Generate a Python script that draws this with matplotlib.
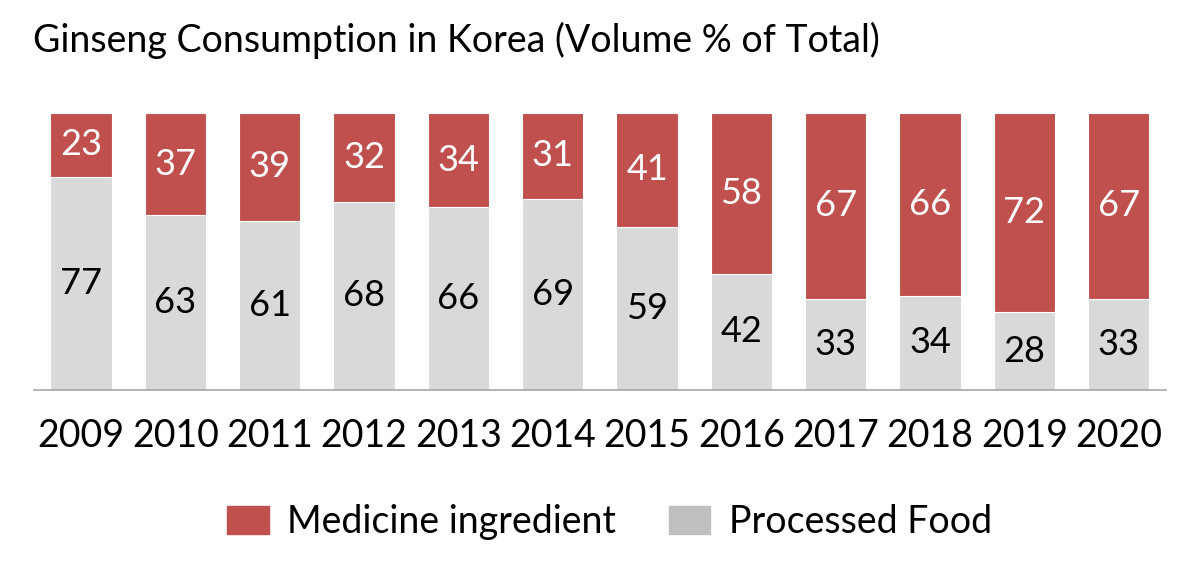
import matplotlib.pyplot as plt

years = ['2009', '2010', '2011', '2012', '2013', '2014', '2015', '2016', '2017', '2018', '2019', '2020']
processed = [77, 63, 61, 68, 66, 69, 59, 42, 33, 34, 28, 33]
medicine = [23, 37, 39, 32, 34, 31, 41, 58, 67, 66, 72, 67]

red = '#C0504D'
grey = '#D9D9D9'
plt.rcParams['font.family'] = ['Lato', 'DejaVu Sans']

fig = plt.figure(figsize=(12, 5.68), dpi=100)
ax = fig.add_axes([0.0283, 0.3134, 0.9433, 0.4877])

x = range(len(years))
ax.bar(x, processed, width=0.65, color=grey, edgecolor='white', linewidth=0.8)
ax.bar(x, medicine, width=0.65, bottom=processed, color=red, edgecolor='white', linewidth=0.8)

for i in x:
    ax.text(i, processed[i] / 2, str(processed[i]), ha='center', va='center', fontsize=26, color='black')
    ax.text(i, processed[i] + medicine[i] / 2, str(medicine[i]), ha='center', va='center', fontsize=26, color='white')

ax.set_xlim(-0.5, 11.5)
ax.set_ylim(0, 100)
ax.set_xticks(list(x))
ax.set_xticklabels(years, fontsize=27)
ax.tick_params(axis='x', length=0, pad=20)
ax.set_yticks([])
for s in ['top', 'right', 'left']:
    ax.spines[s].set_visible(False)
ax.spines['bottom'].set_color('#A6A6A6')
ax.spines['bottom'].set_linewidth(1.2)

fig.text(0.0275, 0.928, 'Ginseng Consumption in Korea (Volume % of Total)', fontsize=27, ha='left', va='center')

h1 = plt.Rectangle((0, 0), 1, 1, color=red)
h2 = plt.Rectangle((0, 0), 1, 1, color='#BFBFBF')
fig.legend([h1, h2], ['Medicine ingredient', 'Processed Food'], loc='center', bbox_to_anchor=(0.508, 0.081),
           ncol=2, frameon=False, fontsize=27, handlelength=1.1, handleheight=0.8, columnspacing=1.4, handletextpad=0.5)

fig.savefig('out.png', dpi=100)
